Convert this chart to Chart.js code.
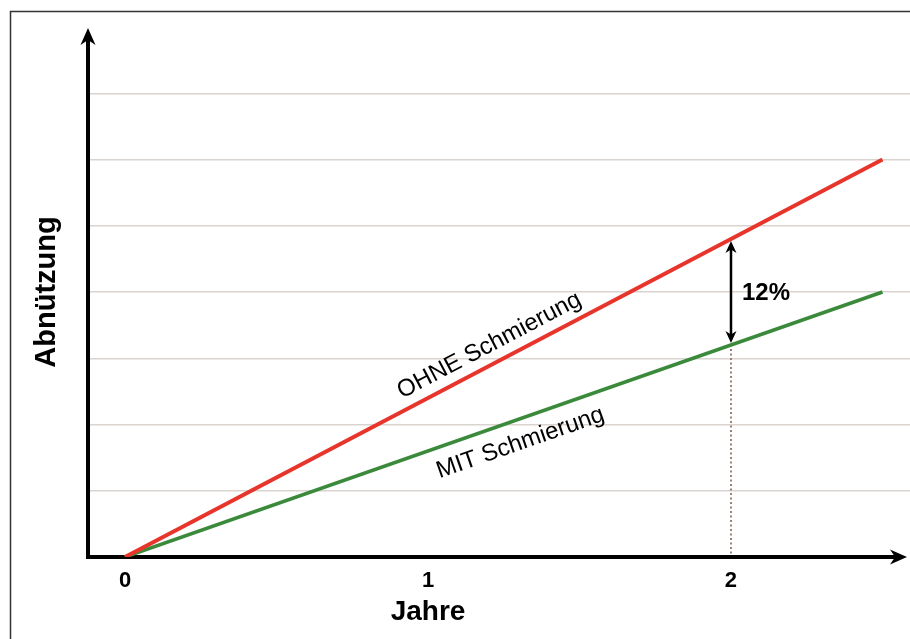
<!DOCTYPE html>
<html><head><meta charset="utf-8">
<script src="https://cdn.jsdelivr.net/npm/chart.js@4.4.1/dist/chart.umd.min.js"></script>
<style>html,body{margin:0;padding:0;background:#fff;}#wrap{position:relative;width:910px;height:639px;}</style>
</head><body><div id="wrap"><canvas id="c" width="910" height="639"></canvas></div>
<script>
const years = [0, 2.5];
const ohneSchmierung = [0, 6];
const mitSchmierung = [0, 4];
const xTickValues = [0, 1, 2];
const yGridValues = [0, 1, 2, 3, 4, 5, 6, 7, 8];
const markerYear = 2;
const markerOhne = 4.8;
const markerMit = 3.2;
const markerLabel = '12%';
const lineLabels = ['OHNE Schmierung', 'MIT Schmierung'];
const lineLabelYears = [1.23, 1.28];
const xTitle = 'Jahre';
const xTitleYear = 1;
const yTitle = 'Abnützung';

const FONT = 'Arial, "Liberation Sans", sans-serif';

function arrowHead(ctx, x, y, ang, len, wid) {
  ctx.save();
  ctx.translate(x, y);
  ctx.rotate(ang);
  ctx.beginPath();
  ctx.moveTo(0, 0);
  ctx.lineTo(-len, -wid);
  ctx.lineTo(-len * 0.7, 0);
  ctx.lineTo(-len, wid);
  ctx.closePath();
  ctx.fill();
  ctx.restore();
}

const decor = {
  id: 'decor',
  beforeDatasetsDraw(chart) {
    const {ctx, chartArea: a, scales: {x, y}} = chart;
    ctx.save();
    const mx = x.getPixelForValue(markerYear);
    ctx.strokeStyle = '#9a8276';
    ctx.lineWidth = 2;
    ctx.setLineDash([2, 2.5]);
    ctx.beginPath();
    ctx.moveTo(mx, y.getPixelForValue(markerMit) + 4);
    ctx.lineTo(mx, y.getPixelForValue(0));
    ctx.stroke();
    ctx.setLineDash([]);
    const ox = a.left, oy = y.getPixelForValue(0);
    ctx.strokeStyle = '#000';
    ctx.fillStyle = '#000';
    ctx.lineWidth = 4;
    ctx.lineCap = 'butt';
    ctx.beginPath();
    ctx.moveTo(ox, a.top + 8);
    ctx.lineTo(ox, oy);
    ctx.lineTo(a.right - 10, oy);
    ctx.stroke();
    arrowHead(ctx, ox, a.top + 1, -Math.PI / 2, 17, 7.5);
    arrowHead(ctx, a.right - 3, oy, 0, 17, 7.5);
    ctx.restore();
  },
  afterDatasetsDraw(chart) {
    const {ctx, scales: {x, y}} = chart;
    ctx.save();
    const mx = x.getPixelForValue(markerYear);
    const y1 = y.getPixelForValue(markerOhne) + 2;
    const y2 = y.getPixelForValue(markerMit) - 2;
    ctx.strokeStyle = '#000';
    ctx.fillStyle = '#000';
    ctx.lineWidth = 2.5;
    ctx.beginPath();
    ctx.moveTo(mx, y1 + 8);
    ctx.lineTo(mx, y2 - 8);
    ctx.stroke();
    arrowHead(ctx, mx, y1, -Math.PI / 2, 12, 5.5);
    arrowHead(ctx, mx, y2, Math.PI / 2, 12, 5.5);
    ctx.font = 'bold 24px ' + FONT;
    ctx.textAlign = 'left';
    ctx.textBaseline = 'middle';
    ctx.fillText(markerLabel, mx + 11, y.getPixelForValue((markerOhne + markerMit) / 2) + 1);
    const series = [ohneSchmierung, mitSchmierung];
    const offs = [-18, 23];
    ctx.font = '24px ' + FONT;
    ctx.textAlign = 'center';
    series.forEach((s, i) => {
      const px0 = x.getPixelForValue(years[0]), py0 = y.getPixelForValue(s[0]);
      const px1 = x.getPixelForValue(years[1]), py1 = y.getPixelForValue(s[1]);
      const ang = Math.atan2(py1 - py0, px1 - px0);
      const t = (lineLabelYears[i] - years[0]) / (years[1] - years[0]);
      const cx = px0 + (px1 - px0) * t, cy = py0 + (py1 - py0) * t;
      ctx.save();
      ctx.translate(cx, cy);
      ctx.rotate(ang);
      ctx.fillText(lineLabels[i], 0, offs[i]);
      ctx.restore();
    });
    // x axis title, centred under the year-1 tick as in the reference
    ctx.font = 'bold 28px ' + FONT;
    ctx.textAlign = 'center';
    ctx.textBaseline = 'middle';
    ctx.fillText(xTitle, x.getPixelForValue(xTitleYear), 612);
    ctx.restore();
  },
  afterDraw(chart) {
    const {ctx} = chart;
    ctx.save();
    ctx.strokeStyle = '#333';
    ctx.lineWidth = 1.5;
    ctx.strokeRect(10.5, 11.5, 1000, 1000);
    ctx.restore();
  }
};

new Chart(document.getElementById('c'), {
  type: 'line',
  data: {
    datasets: [
      {label: lineLabels[0], data: years.map((v, i) => ({x: v, y: ohneSchmierung[i]})),
       borderColor: '#e8352c', borderWidth: 4, pointRadius: 0, fill: false, tension: 0},
      {label: lineLabels[1], data: years.map((v, i) => ({x: v, y: mitSchmierung[i]})),
       borderColor: '#3b8a3c', borderWidth: 3.5, pointRadius: 0, fill: false, tension: 0}
    ]
  },
  options: {
    responsive: false,
    animation: false,
    layout: {padding: {top: 27, right: 0, left: 0, bottom: 0}},
    plugins: {legend: {display: false}, tooltip: {enabled: false}},
    scales: {
      x: {
        type: 'linear',
        min: -0.1221, max: 2.5908,
        afterBuildTicks: s => { s.ticks = xTickValues.map(v => ({value: v})); },
        afterFit: s => { s.height = 82; },
        grid: {display: false, drawTicks: false},
        border: {display: false},
        ticks: {font: {family: FONT, size: 22, weight: 'bold'}, color: '#000', padding: 11, maxRotation: 0},
        title: {display: false, text: xTitle}
      },
      y: {
        min: 0, max: 8,
        afterBuildTicks: s => { s.ticks = yGridValues.map(v => ({value: v})); },
        afterFit: s => { s.width = 88; },
        grid: {drawTicks: false, lineWidth: 1.5,
               color: c => (c.tick && (c.tick.value === 0 || c.tick.value === 8)) ? 'rgba(0,0,0,0)' : '#d9d4d0'},
        border: {display: false},
        ticks: {display: false},
        title: {display: true, text: yTitle, color: '#000', font: {family: FONT, size: 29, weight: 'bold'}, padding: {top: 30, bottom: 0}}
      }
    }
  },
  plugins: [decor]
});
</script></body></html>
